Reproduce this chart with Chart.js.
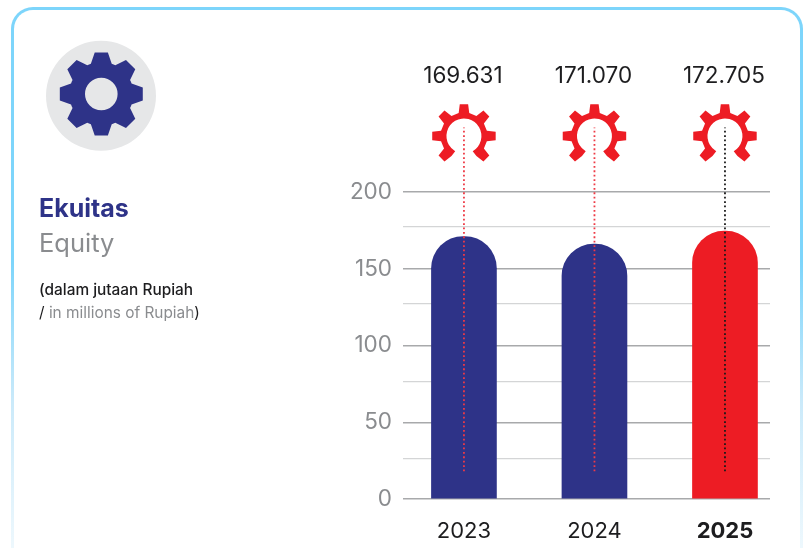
<!DOCTYPE html>
<html><head><meta charset="utf-8">
<script src="https://cdn.jsdelivr.net/npm/chart.js@4"></script>
<style>
html,body{margin:0;padding:0;background:#fff;width:806px;height:548px;overflow:hidden}
#card{position:absolute;left:11px;top:7px;width:786px;height:560px;border:3.5px solid transparent;border-radius:22px;box-sizing:content-box;
background:linear-gradient(#fff,#fff) padding-box,linear-gradient(#7dd5fb 0%,#7dd5fb 45%,#cbeafa 70%,#eef8fd 96%,#f6fbfe 100%) border-box}
canvas{position:absolute;left:0;top:0}
.t{position:absolute;font-family:Inter,"Open Sans",sans-serif;white-space:nowrap}
</style></head><body>
<div id="card"></div>
<canvas id="c" width="806" height="548"></canvas>
<div class="t" style="left:39px;top:193px;font-size:25px;font-weight:700;color:#2e3388;line-height:30px">Ekuitas</div>
<div class="t" style="left:39px;top:227px;font-size:25.5px;color:#8a8c8f;line-height:31px">Equity</div>
<div class="t" style="left:39px;top:280px;font-size:15.4px;font-weight:500;color:#1d1d1f">(dalam jutaan Rupiah</div>
<div class="t" style="left:39px;top:303px;font-size:15.4px;color:#8a8c8f"><span style="color:#1d1d1f">/</span> in millions of Rupiah<span style="color:#1d1d1f">)</span></div>
<script>
const years=[2023,2024,2025];
const barValues=[171,166,174.5];
const valueLabels=['169.631','171.070','172.705'];
const barColors=['#2e3388','#2e3388','#ed1c24'];
const dotColors=['#ee3a45','#ee3a45','#1a1a1a'];
const dotFrom=18, dotTo=242;
const yMajorTicks=[0,50,100,150,200];
const yMinorTicks=[26.5,76.8,127,177.2];

function gearPath(ctx,cx,cy,rBody,rTip,halfBase,halfTop,startDeg,endDeg,rHole){
  ctx.beginPath();
  const P=(r,d)=>{const a=(d-90)*Math.PI/180;return [cx+r*Math.cos(a),cy+r*Math.sin(a)];};
  if(startDeg===undefined){
    for(let k=0;k<8;k++){const a=k*45;
      for(const [r,d] of [[rBody,a-halfBase],[rTip,a-halfTop],[rTip,a+halfTop],[rBody,a+halfBase]]){
        const p=P(r,d);ctx.lineTo(p[0],p[1]);}
      const mid=P(rBody/Math.cos(Math.PI/180*(22.5-halfBase)),a+22.5);
      ctx.lineTo(mid[0],mid[1]);
    }
    ctx.closePath();
    ctx.moveTo(cx+rHole,cy);ctx.arc(cx,cy,rHole,0,Math.PI*2,true);
    ctx.fill('evenodd');
  }else{
    for(let k=-3;k<=3;k++){const a=k*45;
      for(const [r,d] of [[rBody,a-halfBase],[rTip,a-halfTop],[rTip,a+halfTop],[rBody,a+halfBase]]){
        const p=P(r,d);ctx.lineTo(p[0],p[1]);}
    }
    const h1=P(rHole,endDeg);ctx.lineTo(h1[0],h1[1]);
    ctx.arc(cx,cy,rHole,(endDeg-90)*Math.PI/180,(startDeg-90)*Math.PI/180,true);
    ctx.closePath();ctx.fill();
  }
}

const deco={id:'deco',
  beforeDraw(ch){const c=ch.ctx;c.save();
    c.fillStyle='#e6e7e8';c.beginPath();c.arc(101,95.8,55,0,Math.PI*2);c.fill();
    c.fillStyle='#2e3388';gearPath(c,101.3,94,32,42,19,9,undefined,undefined,16.3);
    c.restore();},
  afterDatasetsDraw(ch){const c=ch.ctx,x=ch.scales.x;c.save();
    years.forEach((yr,i)=>{const px=x.getPixelForValue(yr);
      c.fillStyle='#ed1c24';
      gearPath(c,px,136,23.5,32,13,7.5,-150,150,17.5);
      c.fillStyle='#1d1d1f';c.font='22.5px Inter,"Open Sans",sans-serif';c.textAlign='center';c.textBaseline='middle';
      c.fillText(valueLabels[i],px-1,76);
    });
    c.restore();}
};

new Chart(document.getElementById('c'),{
  type:'bar',
  data:{datasets:[
    {type:'bar',order:2,data:years.map((y,i)=>({x:y,y:barValues[i]})),backgroundColor:barColors,barThickness:65,borderSkipped:'bottom',
     borderRadius:{topLeft:32,topRight:32,bottomLeft:0,bottomRight:0}},
    ...years.map((y,i)=>({type:'line',order:1,clip:false,data:[{x:y,y:dotFrom},{x:y,y:dotTo}],borderColor:dotColors[i],borderWidth:1.8,borderDash:[1.8,2.6],pointRadius:0,fill:false}))
  ]},
  options:{responsive:false,animation:false,
    layout:{padding:{top:192,right:36,left:0,bottom:0}},
    plugins:{legend:{display:false},tooltip:{enabled:false}},
    scales:{
      x:{type:'linear',offset:false,min:2022.533,max:2025.345,
        afterBuildTicks(a){a.ticks=years.map(v=>({value:v}));},
        afterFit(a){a.height=49;},
        grid:{display:false},border:{display:false},
        ticks:{autoSkip:false,maxRotation:0,padding:11,color:'#1d1d1f',
          callback:v=>String(v),
          font:c=>({family:'Inter,"Open Sans",sans-serif',size:22,weight:c.tick&&c.tick.value===2025?'700':'400'})}},
      y:{min:0,max:200,
        afterBuildTicks(a){a.ticks=[...yMajorTicks,...yMinorTicks].sort((p,q)=>p-q).map(v=>({value:v}));},
        afterFit(a){a.width=403;},
        border:{display:false},
        grid:{drawTicks:false,lineWidth:c=>yMajorTicks.includes(c.tick.value)?1.5:1.2,color:c=>yMajorTicks.includes(c.tick.value)?'#a8a9ab':'#d4d5d6'},
        ticks:{padding:11,color:'#8a8c8f',font:{family:'Inter,"Open Sans",sans-serif',size:22.5},
          callback:v=>yMajorTicks.includes(v)?String(v):''}}
    }
  },
  plugins:[deco]
});
</script>
</body></html>
